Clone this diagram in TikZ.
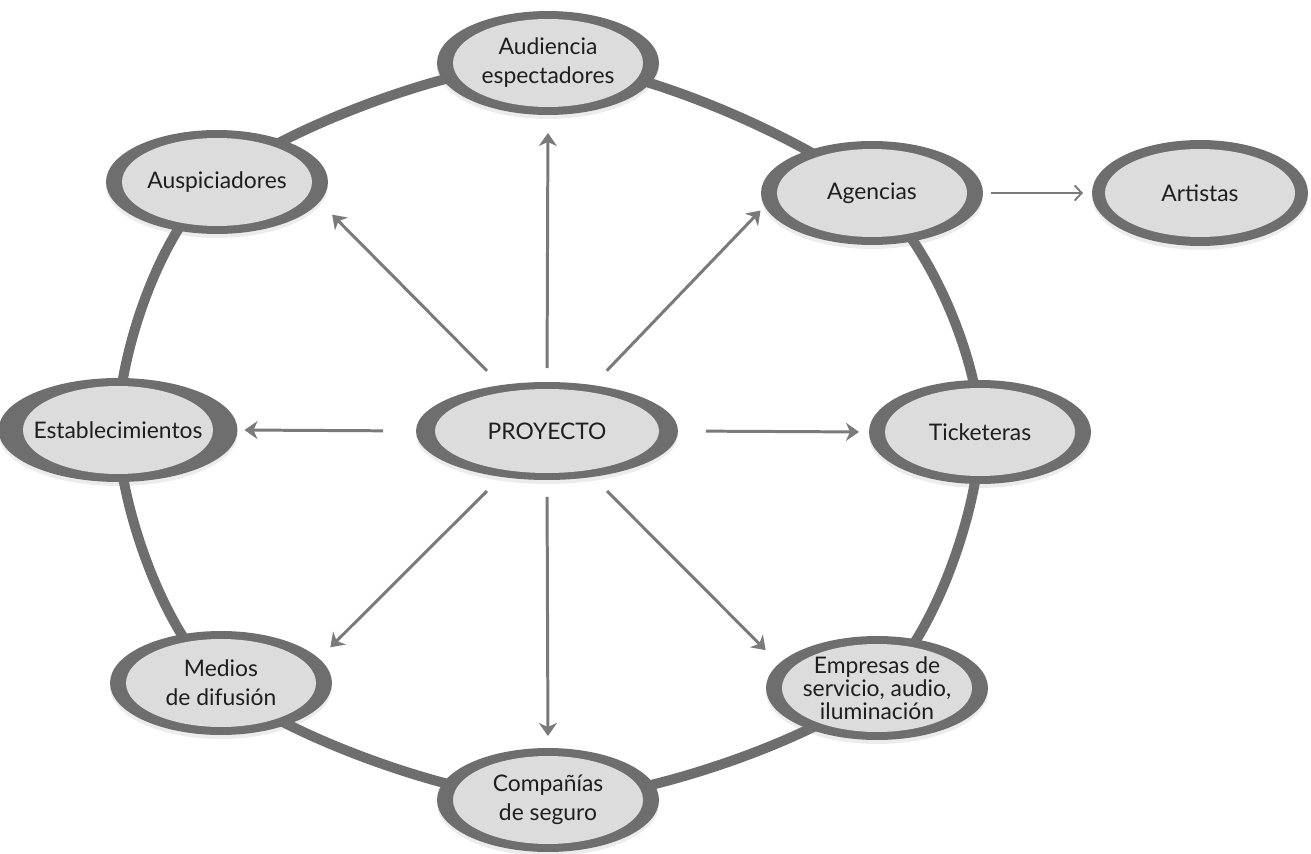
\documentclass[tikz,border=0pt]{standalone}
\usepackage{fontspec}
\setmainfont{Lato}
\usetikzlibrary{shapes.geometric,arrows.meta,shadows,backgrounds}
\definecolor{ringgray}{HTML}{6E6E6E}
\definecolor{nodegray}{HTML}{DCDCDC}
\definecolor{arrowgray}{HTML}{7A7A7A}
\definecolor{textgray}{HTML}{1E1E1E}
\tikzset{
  actor/.style={ellipse, fill=ringgray, minimum width=4.44cm, minimum height=2.08cm,
    inner sep=0pt, outer sep=0pt, align=center, text=textgray, font=\fontsize{13}{16.5}\selectfont,
    drop shadow={shadow xshift=0cm, shadow yshift=-0.08cm, opacity=0.15},
    path picture={\fill[nodegray] (path picture bounding box.center) ellipse [x radius=1.9cm, y radius=0.88cm];}},
  hub/.style={actor, minimum width=5.24cm, minimum height=1.96cm,
    path picture={\fill[nodegray] (path picture bounding box.center) ellipse [x radius=2.24cm, y radius=0.84cm];}},
  ring/.style={draw=ringgray, line width=0.2cm},
  link/.style={every edge/.style={draw=arrowgray, line width=1.7pt,
    -{Stealth[length=0.26cm, width=0.36cm, inset=0.08cm]}, shorten <=0.4cm}},
  thinlink/.style={every edge/.style={draw=arrowgray, line width=1.1pt,
    -{Straight Barb[length=0.14cm, width=0.3cm]}, shorten <=0.16cm, shorten >=0.18cm}}
}
\begin{document}
\begin{tikzpicture}[x=0.02cm, y=-0.02cm]
\useasboundingbox (0,0) rectangle (1311,854);

\node[hub] (proy) at (547,431) {PROYECTO};
\node[actor] (aud) at (548,63) {Audiencia\\espectadores};
\node[actor] (ausp) at (217,182) {Auspiciadores};
\node[actor] (agen) at (872,193) {Agencias};
\node[actor, minimum width=4.32cm, minimum height=2.12cm] (art) at (1200,193) {Artistas};
\node[actor] (estab) at (118,430) {Establecimientos};
\node[actor] (tick) at (980,432) {Ticketeras};
\node[actor] (med) at (221,683) {Medios\\de difusión};
\node[actor, font=\fontsize{13}{13}\selectfont] (emp) at (877,688) {Empresas de\\servicio, audio,\\iluminación};
\node[actor] (comp) at (548,800) {Compañías\\de seguro};

\begin{scope}[on background layer]
\draw[ring] plot[smooth cycle] coordinates {(aud) (agen) (tick) (emp) (comp) (med) (estab) (ausp)};
\end{scope}

\path[link]
(proy.180) edge[shorten <=0.66cm, shorten >=0.14cm] (estab.0)
(proy.0) edge[shorten <=0.56cm, shorten >=0.2cm] (tick.180)
(proy.90) edge[shorten <=0.28cm, shorten >=0.36cm] (aud.-90)
(proy.-90) edge[shorten <=0.34cm, shorten >=0.24cm] (comp.90)
(proy.135) edge[shorten >=0.36cm] (ausp.-11)
(proy.45) edge[shorten >=0.12cm] (agen.187)
(proy.225) edge[shorten >=0.32cm] (med.14)
(proy.-45) edge[shorten >=0.38cm] (emp.166);
\path[thinlink] (agen.0) edge (art.180);
\end{tikzpicture}
\end{document}
